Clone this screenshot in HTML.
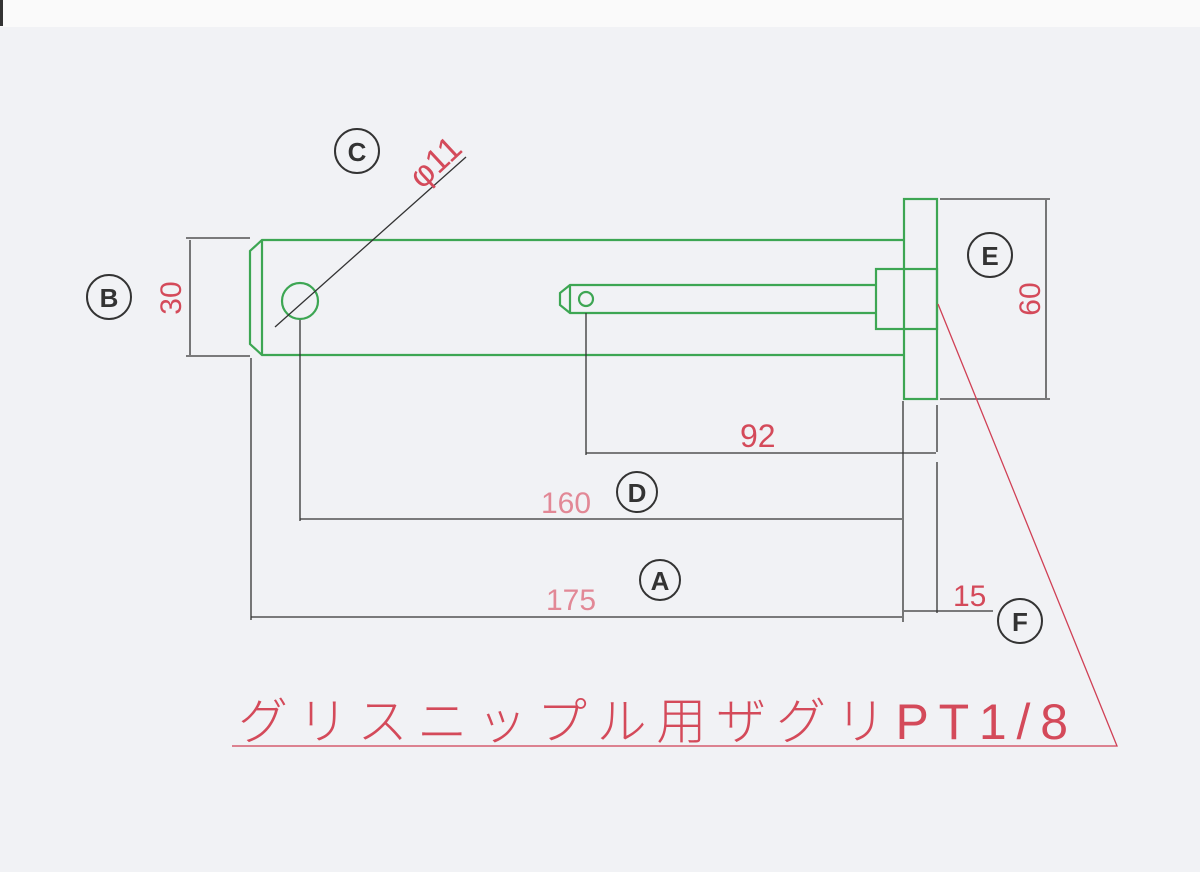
<!DOCTYPE html>
<html><head><meta charset="utf-8"><style>
html,body{margin:0;padding:0;background:#f1f2f5;}
svg{display:block;}
</style></head><body>
<svg width="1200" height="872" viewBox="0 0 1200 872" xmlns="http://www.w3.org/2000/svg">
<rect x="0" y="0" width="1200" height="872" fill="#f1f2f5"/>
<rect x="0" y="0" width="1200" height="27" fill="#fafafa"/>
<rect x="0" y="0" width="3" height="26" fill="#333"/>
<g fill="none" stroke="#3da653" stroke-width="2.2">
  <polyline points="904,240 262,240 250,251 250,344 262,355 904,355"/>
  <line x1="262" y1="240" x2="262" y2="355"/>
  <circle cx="300" cy="301" r="18"/>
  <rect x="904" y="199" width="33" height="200"/>
  <rect x="876" y="269" width="61" height="60"/>
  <polyline points="876,285 570,285 560,293 560,305 570,313 876,313"/>
  <line x1="570" y1="285" x2="570" y2="313"/>
  <circle cx="586" cy="299" r="7"/>
</g>
<g stroke="#333" stroke-width="1.3" fill="none">
  <line x1="275" y1="327" x2="466" y2="157"/>
  <line x1="186" y1="238" x2="250" y2="238"/>
  <line x1="186" y1="356" x2="250" y2="356"/>
  <line x1="190" y1="240" x2="190" y2="355"/>
  <line x1="940" y1="199" x2="1050" y2="199"/>
  <line x1="940" y1="399" x2="1050" y2="399"/>
  <line x1="1046" y1="200" x2="1046" y2="398"/>
  <line x1="586" y1="313" x2="586" y2="455"/>
  <line x1="300" y1="320" x2="300" y2="521"/>
  <line x1="251" y1="358" x2="251" y2="620"/>
  <line x1="903" y1="401" x2="903" y2="622"/>
  <line x1="937" y1="405" x2="937" y2="452"/>
  <line x1="937" y1="462" x2="937" y2="613"/>
  <line x1="586" y1="453" x2="936" y2="453"/>
  <line x1="300" y1="519" x2="902" y2="519"/>
  <line x1="251" y1="617" x2="902" y2="617"/>
  <line x1="904" y1="611" x2="993" y2="611"/>
</g>
<g stroke="#d04055" stroke-width="1.3" fill="none">
  <polyline points="938,304 1117,746 232,746"/>
</g>
<g font-family="Liberation Sans, sans-serif" fill="#d44a5a" font-size="30">
  <text x="740" y="447" font-size="32">92</text>
  <text x="541" y="513" fill="#e28896">160</text>
  <text x="546" y="610" fill="#e28896">175</text>
  <text x="953" y="606">15</text>
  <text transform="translate(181,298) rotate(-90)" text-anchor="middle">30</text>
  <text transform="translate(1040,299) rotate(-90)" text-anchor="middle">60</text>
  <text transform="translate(422,190) rotate(-43)" font-size="34">φ11</text>
</g>
<g font-family="Liberation Sans, sans-serif" font-weight="bold" fill="#333" font-size="26" text-anchor="middle">
  <circle cx="357" cy="151" r="22" fill="none" stroke="#333" stroke-width="2"/><text x="357" y="161">C</text>
  <circle cx="109" cy="297" r="22" fill="none" stroke="#333" stroke-width="2"/><text x="109" y="307">B</text>
  <circle cx="990" cy="255" r="22" fill="none" stroke="#333" stroke-width="2"/><text x="990" y="265">E</text>
  <circle cx="637" cy="492" r="20" fill="none" stroke="#333" stroke-width="2"/><text x="637" y="502">D</text>
  <circle cx="660" cy="580" r="20" fill="none" stroke="#333" stroke-width="2"/><text x="660" y="590">A</text>
  <circle cx="1020" cy="621" r="22" fill="none" stroke="#333" stroke-width="2"/><text x="1020" y="631">F</text>
</g>
<text x="238" y="739" font-family="Liberation Sans, 'Noto Sans CJK JP', sans-serif" font-size="50" font-weight="300" fill="#d44a5a" textLength="830" lengthAdjust="spacing">グリスニップル用ザグリPT1/8</text>
</svg>
</body></html>
